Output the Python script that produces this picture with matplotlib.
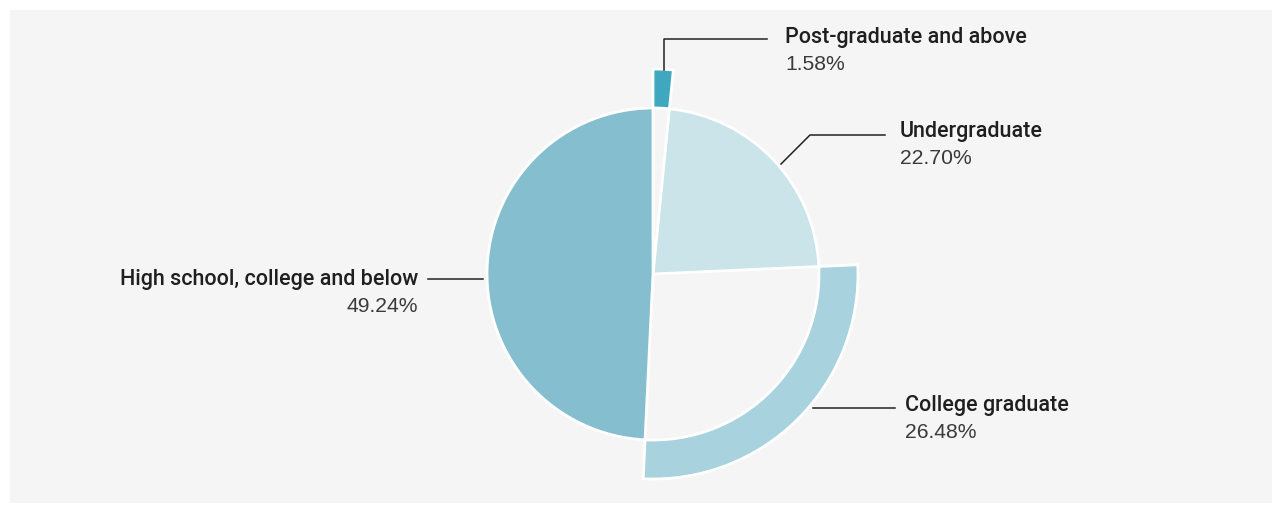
import matplotlib
matplotlib.use("Agg")
import matplotlib.pyplot as plt
from matplotlib.patches import Rectangle
import numpy as np

categories = ["Post-graduate and above", "Undergraduate", "College graduate",
              "High school, college and below"]
values = [1.58, 22.70, 26.48, 49.24]
value_labels = ["1.58%", "22.70%", "26.48%", "49.24%"]
colors = ["#3fa8bf", "#cbe4ea", "#a8d2dd", "#85bfcf"]
ring = [True, False, True, False]  # drawn as outer ring segments

W, H = 1282, 513
fig = plt.figure(figsize=(W / 100, H / 100), dpi=100)
fig.patch.set_facecolor("white")
ax = fig.add_axes([0, 0, 1, 1])
ax.add_patch(Rectangle((10, 10), 1262, 493, facecolor="#f5f5f5", edgecolor="none", zorder=0))

cx, cy = 653, 513 - 274
r_in, r_out = 166, 205

wedges, _ = ax.pie(values, radius=r_in, center=(cx, cy), startangle=90,
                   counterclock=False, colors=colors, frame=True,
                   wedgeprops=dict(edgecolor="white", linewidth=2))
for w, rg in zip(wedges, ring):
    w.set_zorder(2)
    if rg:
        w.set_radius(r_out)
        w.set_width(r_out - r_in)

ax.set_xlim(0, W)
ax.set_ylim(0, H)
ax.set_aspect("equal")
ax.axis("off")

# leader line layout in pixel coords (image y measured from top)
layout = [
    dict(line=[(664, 70), (664, 39), (767, 39)], tx=785, ty=37, ha="left"),
    dict(line=[(781, 164), (810, 135), (885, 135)], tx=900, ty=132, ha="left"),
    dict(line=[(813, 408), (895, 408)], tx=905, ty=406, ha="left"),
    dict(line=[(483, 279), (428, 279)], tx=418, ty=279, ha="right"),
]
for name, val, lay in zip(categories, value_labels, layout):
    xs = [p[0] for p in lay["line"]]
    ys = [H - p[1] for p in lay["line"]]
    ax.plot(xs, ys, color="#222222", lw=1.1, zorder=3)
    ax.text(lay["tx"], H - lay["ty"], name, ha=lay["ha"], va="center",
            fontsize=15.5, color="#1f1f1f", fontfamily="Roboto", fontweight="medium")
    ax.text(lay["tx"], H - lay["ty"] - 27, val, ha=lay["ha"], va="center",
            fontsize=15.2, color="#3a3a3a", fontfamily="Liberation Sans")

fig.savefig("out.png", dpi=100, facecolor=fig.get_facecolor())
